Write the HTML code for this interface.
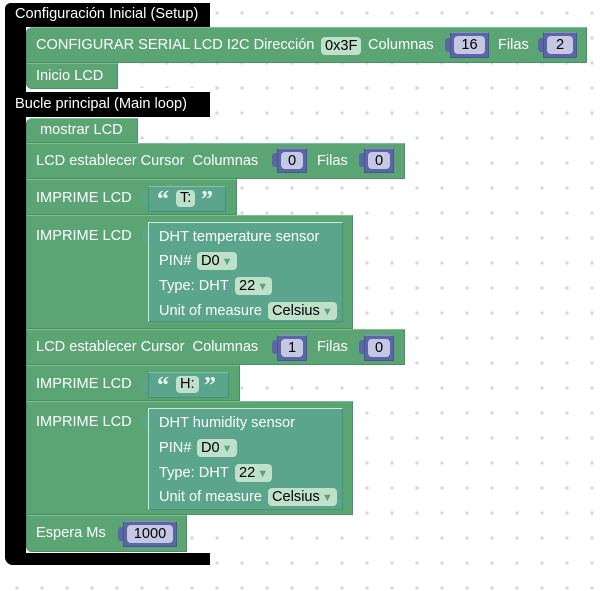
<!DOCTYPE html>
<html><head><meta charset="utf-8"><style>
*{margin:0;padding:0;box-sizing:border-box}
body{width:606px;height:591px;background:#fff;position:relative;overflow:hidden;font-family:"Liberation Sans",sans-serif;font-size:14.6px;color:#fff}
.a{position:absolute}
.blk{position:absolute;background:#5ba574;border:1px solid #4a8f62;border-top-color:#7cc090}
.t{position:absolute;white-space:nowrap;line-height:17px}
.num{position:absolute;background:#5b67a5;border:1px solid #4a5590;border-top-color:#8790c4}
.num span{position:absolute;left:3px;right:3px;top:3px;bottom:3px;background:#c5c8e2;border-radius:4px;color:#000;text-align:center;line-height:18px;font-size:14.6px}
.tab{position:absolute;width:6px;height:14px;border-radius:3px 0 0 3px}
.fld{position:absolute;background:#bfe0c9;border-radius:4px;color:#000;line-height:18px;height:18px;padding:0 4px;white-space:nowrap}
.fld i{font-style:normal;color:#5ba574;font-size:11px;margin-left:2px}
.txt{position:absolute;background:#5ba58c;border:1px solid #4a8f77;border-top-color:#80c2aa}
.sens{position:absolute;background:#5ba58c;border:1px solid #d0e8dc;border-right-color:#4a8f77;border-bottom-color:#4a8f77}
.q{position:absolute;font-family:"Liberation Serif",serif;font-weight:bold;font-size:24px;line-height:20px;color:#eaf6ee}
</style></head><body>
<svg class="a" style="left:0;top:0" width="606" height="591"><defs><pattern id="p" x="0" y="0" width="25" height="25" patternUnits="userSpaceOnUse"><path d="M15 13h4M17 11v4" stroke="#ccc" stroke-width="1"/></pattern></defs><rect width="606" height="591" fill="url(#p)"/></svg>

<div class="a" style="left:5px;top:3px;width:205px;height:24px;background:#000;border-radius:6px 0 0 0"></div>
<div class="a" style="left:5px;top:3px;width:21px;height:562px;background:#000;border-radius:6px 0 0 8px"></div>
<div class="a" style="left:5px;top:92px;width:205px;height:25px;background:#000"></div>
<div class="a" style="left:5px;top:553px;width:205px;height:12px;background:#000;border-radius:0 0 0 8px"></div>
<div class="a" style="left:26px;top:88px;width:184px;height:4px;background:#fff"></div>
<div class="t" style="left:15px;top:6px">Configuración Inicial (Setup)</div>
<div class="t" style="left:15px;top:96px">Bucle principal (Main loop)</div>

<div class="blk" style="left:26px;top:27px;width:561px;height:36px;border-radius:6px 0 0 0"></div>
<div class="t" style="left:36px;top:37px">CONFIGURAR SERIAL LCD I2C Dirección</div>
<div class="fld" style="left:321px;top:37px">0x3F</div>
<div class="t" style="left:368px;top:37px">Columnas</div>
<div class="tab" style="left:445px;top:38px;background:#5b67a5"></div>
<div class="num" style="left:450px;top:32px;width:39px;height:26px"><span>16</span></div>
<div class="t" style="left:498px;top:37px">Filas</div>
<div class="tab" style="left:538px;top:38px;background:#5b67a5"></div>
<div class="num" style="left:543px;top:32px;width:34px;height:26px"><span>2</span></div>

<div class="blk" style="left:26px;top:63px;width:92px;height:26px;border-radius:0 0 0 6px"></div>
<div class="t" style="left:36px;top:68px">Inicio LCD</div>

<div class="blk" style="left:26px;top:118px;width:112px;height:25px;border-radius:6px 0 0 0"></div>
<div class="t" style="left:40px;top:122px">mostrar LCD</div>

<div class="blk" style="left:26px;top:143px;width:379px;height:36px"></div>
<div class="t" style="left:36px;top:153px">LCD establecer Cursor&nbsp; Columnas</div>
<div class="tab" style="left:272px;top:153px;background:#5b67a5"></div>
<div class="num" style="left:277px;top:148px;width:30px;height:25px"><span>0</span></div>
<div class="t" style="left:317px;top:153px">Filas</div>
<div class="tab" style="left:359px;top:153px;background:#5b67a5"></div>
<div class="num" style="left:364px;top:148px;width:30px;height:25px"><span>0</span></div>

<div class="blk" style="left:26px;top:179px;width:211px;height:36px"></div>
<div class="t" style="left:36px;top:190px">IMPRIME LCD</div>
<div class="tab" style="left:143px;top:192px;background:#5ba58c"></div>
<div class="txt" style="left:148px;top:186px;width:78px;height:26px"></div>
<div class="q" style="left:157px;top:190px">“</div>
<div class="fld" style="left:176px;top:190px;height:17px;line-height:17px">T:</div>
<div class="q" style="left:201px;top:190px">”</div>

<div class="blk" style="left:26px;top:215px;width:327px;height:114px"></div>
<div class="t" style="left:36px;top:228px">IMPRIME LCD</div>
<div class="tab" style="left:143px;top:229px;background:#5ba58c"></div>
<div class="sens" style="left:148px;top:222px;width:195px;height:100px"></div>
<div class="t" style="left:159px;top:229px">DHT temperature sensor</div>
<div class="t" style="left:159px;top:253px">PIN#</div>
<div class="fld" style="left:197px;top:252px">D0<i>▼</i></div>
<div class="t" style="left:159px;top:278px">Type: DHT</div>
<div class="fld" style="left:235px;top:277px">22<i>▼</i></div>
<div class="t" style="left:159px;top:303px">Unit of measure</div>
<div class="fld" style="left:268px;top:302px">Celsius<i>▼</i></div>

<div class="blk" style="left:26px;top:329px;width:379px;height:36px"></div>
<div class="t" style="left:36px;top:339px">LCD establecer Cursor&nbsp; Columnas</div>
<div class="tab" style="left:272px;top:340px;background:#5b67a5"></div>
<div class="num" style="left:277px;top:335px;width:30px;height:26px"><span>1</span></div>
<div class="t" style="left:317px;top:339px">Filas</div>
<div class="tab" style="left:359px;top:340px;background:#5b67a5"></div>
<div class="num" style="left:364px;top:335px;width:30px;height:26px"><span>0</span></div>

<div class="blk" style="left:26px;top:365px;width:214px;height:36px"></div>
<div class="t" style="left:36px;top:376px">IMPRIME LCD</div>
<div class="tab" style="left:143px;top:378px;background:#5ba58c"></div>
<div class="txt" style="left:148px;top:372px;width:81px;height:26px"></div>
<div class="q" style="left:157px;top:376px">“</div>
<div class="fld" style="left:176px;top:376px;height:17px;line-height:17px">H:</div>
<div class="q" style="left:204px;top:376px">”</div>

<div class="blk" style="left:26px;top:401px;width:327px;height:114px"></div>
<div class="t" style="left:36px;top:414px">IMPRIME LCD</div>
<div class="tab" style="left:143px;top:415px;background:#5ba58c"></div>
<div class="sens" style="left:148px;top:408px;width:195px;height:102px"></div>
<div class="t" style="left:159px;top:415px">DHT humidity sensor</div>
<div class="t" style="left:159px;top:440px">PIN#</div>
<div class="fld" style="left:197px;top:439px">D0<i>▼</i></div>
<div class="t" style="left:159px;top:465px">Type: DHT</div>
<div class="fld" style="left:235px;top:464px">22<i>▼</i></div>
<div class="t" style="left:159px;top:489px">Unit of measure</div>
<div class="fld" style="left:268px;top:488px">Celsius<i>▼</i></div>

<div class="blk" style="left:26px;top:515px;width:161px;height:37px;border-radius:0 0 0 6px"></div>
<div class="t" style="left:36px;top:525px">Espera Ms</div>
<div class="tab" style="left:118px;top:527px;background:#5b67a5"></div>
<div class="num" style="left:123px;top:521px;width:54px;height:26px"><span>1000</span></div>
</body></html>
